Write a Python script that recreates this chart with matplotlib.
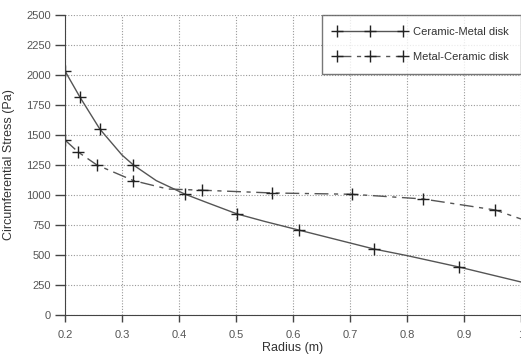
import matplotlib
matplotlib.use("Agg")
import matplotlib.pyplot as plt

# ── data ───────────────────────────────────────────────────────────
cm_radius = [0.2, 0.226, 0.261, 0.30, 0.32, 0.36, 0.41, 0.45, 0.502, 0.55, 0.61, 0.742, 0.80, 0.891, 1.0]
cm_stress = [2033, 1817, 1550, 1333, 1250, 1120, 1008, 935, 842, 780, 708, 550, 495, 400, 275]
cm_marks = [0, 1, 2, 4, 6, 8, 10, 11, 13]

mc_radius = [0.2, 0.223, 0.256, 0.32, 0.38, 0.44, 0.563, 0.704, 0.828, 0.955, 1.0]
mc_stress = [1458, 1358, 1250, 1120, 1050, 1040, 1017, 1006, 967, 875, 800]
mc_marks = [0, 1, 2, 3, 5, 6, 7, 8, 9]

x_ticks = [0.2, 0.3, 0.4, 0.5, 0.6, 0.7, 0.8, 0.9, 1.0]
x_labels = ["0.2", "0.3", "0.4", "0.5", "0.6", "0.7", "0.8", "0.9", "1"]
y_ticks = [0, 250, 500, 750, 1000, 1250, 1500, 1750, 2000, 2250, 2500]

plt.rcParams["font.family"] = ["Liberation Sans", "DejaVu Sans"]

fig = plt.figure(figsize=(5.21, 3.54), dpi=100)
ax = fig.add_axes([0.1248, 0.1102, 0.8752, 0.8474])

ax.plot(cm_radius, cm_stress, color="#555555", linewidth=1.0,
        marker="+", markersize=8, markeredgewidth=1.0, markeredgecolor="#222222",
        markevery=cm_marks, label="Ceramic-Metal disk")
ax.plot(mc_radius, mc_stress, color="#555555", linewidth=1.0,
        linestyle=(0, (10, 4, 3, 4)),
        marker="+", markersize=8, markeredgewidth=1.0, markeredgecolor="#222222",
        markevery=mc_marks, label="Metal-Ceramic disk")

ax.set_xlim(0.2, 1.0)
ax.set_ylim(0, 2500)
ax.set_xticks(x_ticks)
ax.set_xticklabels(x_labels)
ax.set_yticks(y_ticks)
ax.tick_params(axis="y", direction="out", length=7, width=1, colors="#444444", labelsize=8, pad=3)
ax.tick_params(axis="x", direction="out", length=5, width=1, colors="#444444", labelsize=8, pad=6)
for lab in ax.get_xticklabels() + ax.get_yticklabels():
    lab.set_color("#555555")

ax.grid(True, linestyle=(0, (1, 1.5)), color="#999999", linewidth=0.8)
ax.spines["top"].set_visible(False)
ax.spines["right"].set_visible(False)
ax.spines["left"].set_color("#444444")
ax.spines["bottom"].set_color("#444444")

ax.set_xlabel("Radius (m)", fontsize=9, color="#333333", labelpad=1)
ax.set_ylabel("Circumferential Stress (Pa)", fontsize=9, color="#333333", labelpad=8)

leg = ax.legend(loc="upper right", bbox_to_anchor=(1.0, 1.0), fontsize=8,
                handlelength=6.5, numpoints=3, frameon=True, fancybox=False,
                borderpad=1.1, labelspacing=1.3, handletextpad=0.6, borderaxespad=0.0)
leg.get_frame().set_edgecolor("#555555")
leg.get_frame().set_linewidth(1.0)
for t in leg.get_texts():
    t.set_color("#333333")

fig.savefig("out.png", dpi=100)
